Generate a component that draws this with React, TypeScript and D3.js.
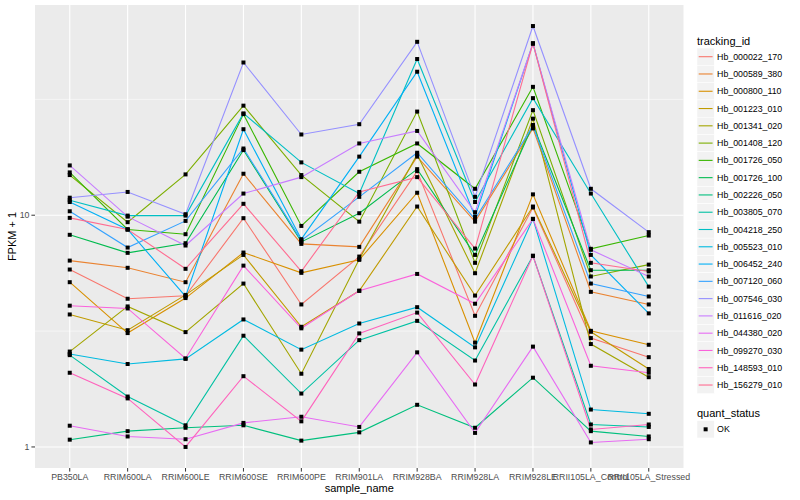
import React from 'react';
import * as d3 from 'd3';

const samples = [
  'PB350LA', 'RRIM600LA', 'RRIM600LE', 'RRIM600SE', 'RRIM600PE', 'RRIM901LA',
  'RRIM928BA', 'RRIM928LA', 'RRIM928LE', 'RRII105LA_Control', 'RRII105LA_Stressed',
];

const trackingIds = [
  'Hb_000022_170', 'Hb_000589_380', 'Hb_000800_110', 'Hb_001223_010', 'Hb_001341_020',
  'Hb_001408_120', 'Hb_001726_050', 'Hb_001726_100', 'Hb_002226_050', 'Hb_003805_070',
  'Hb_004218_250', 'Hb_005523_010', 'Hb_006452_240', 'Hb_007120_060', 'Hb_007546_030',
  'Hb_011616_020', 'Hb_044380_020', 'Hb_099270_030', 'Hb_148593_010', 'Hb_156279_010',
];

const hueColors = [
  '#F8766D', '#EA8331', '#D89000', '#C09B00', '#A3A500', '#7CAE00', '#39B600', '#00BB4E',
  '#00BF7D', '#00C1A3', '#00BFC4', '#00BAE0', '#00B0F6', '#35A2FF', '#9590FF', '#C77CFF',
  '#E76BF3', '#FA62DB', '#FF62BC', '#FF6C91',
];

// FPKM + 1 per sample (same order as samples)
const Hb_000022_170 = [5.83, 4.36, 4.49, 9.71, 4.12, 6.63, 15.5, 3.68, 10.8, 2.95, 2.44];
const Hb_000589_380 = [6.37, 5.93, 5.14, 15.1, 7.52, 7.30, 17.9, 9.38, 23.7, 4.67, 4.12];
const Hb_000800_110 = [5.14, 3.10, 4.39, 6.90, 5.64, 6.42, 12.5, 2.82, 12.3, 3.17, 2.76];
const Hb_001223_010 = [3.73, 3.19, 4.53, 6.74, 3.30, 4.72, 10.9, 4.50, 10.9, 3.14, 2.17];
const Hb_001341_020 = [2.58, 4.04, 3.13, 5.07, 2.07, 6.46, 18.3, 5.62, 26.1, 2.78, 2.00];
const Hb_001408_120 = [14.9, 9.33, 15.0, 29.7, 14.9, 9.38, 28.0, 6.23, 28.4, 5.44, 6.12];
const Hb_001726_050 = [15.3, 8.68, 8.28, 27.3, 8.99, 15.4, 20.4, 13.0, 35.8, 7.16, 8.17];
const Hb_001726_100 = [8.23, 6.88, 7.57, 19.1, 7.67, 10.2, 15.8, 6.74, 24.5, 5.79, 5.79];
const Hb_002226_050 = [1.075, 1.17, 1.21, 1.24, 1.065, 1.156, 1.52, 1.21, 1.99, 1.17, 1.11];
const Hb_003805_070 = [2.49, 1.65, 1.24, 3.02, 1.70, 2.89, 3.50, 2.36, 6.68, 1.25, 1.22];
const Hb_004218_250 = [11.6, 9.96, 9.96, 27.5, 16.9, 12.4, 47.2, 11.4, 32.0, 12.4, 4.92];
const Hb_005523_010 = [2.52, 2.28, 2.40, 3.55, 2.63, 3.41, 4.01, 2.69, 9.64, 1.45, 1.39];
const Hb_006452_240 = [11.4, 8.68, 4.46, 23.5, 7.88, 17.9, 41.6, 9.86, 55.1, 6.74, 3.77];
const Hb_007120_060 = [10.4, 7.25, 9.45, 19.4, 7.79, 12.0, 18.6, 9.62, 24.3, 5.07, 4.46];
const Hb_007546_030 = [11.9, 12.6, 10.1, 45.6, 22.3, 24.7, 56.0, 12.0, 65.5, 13.0, 8.45];
const Hb_011616_020 = [16.4, 9.86, 7.40, 12.4, 14.6, 20.4, 23.1, 10.3, 55.1, 7.09, 5.44];
const Hb_044380_020 = [1.235, 1.11, 1.08, 1.27, 1.35, 1.22, 2.56, 1.15, 2.71, 1.046, 1.08];
const Hb_099270_030 = [4.07, 3.96, 2.41, 6.06, 3.25, 4.72, 5.58, 4.15, 9.64, 2.24, 2.09];
const Hb_148593_010 = [2.09, 1.62, 1.00, 2.02, 1.29, 3.09, 3.80, 1.86, 6.68, 1.19, 1.25];
const Hb_156279_010 = [9.74, 8.68, 5.87, 11.2, 5.73, 12.6, 14.6, 7.18, 55.1, 6.23, 5.72];

const seriesValues = [
  Hb_000022_170, Hb_000589_380, Hb_000800_110, Hb_001223_010, Hb_001341_020,
  Hb_001408_120, Hb_001726_050, Hb_001726_100, Hb_002226_050, Hb_003805_070,
  Hb_004218_250, Hb_005523_010, Hb_006452_240, Hb_007120_060, Hb_007546_030,
  Hb_011616_020, Hb_044380_020, Hb_099270_030, Hb_148593_010, Hb_156279_010,
];

const yMajorTicks = [1, 10];
const yTickLabels = ['1', '10'];
const yMinorTicks = [Math.sqrt(10), Math.sqrt(1000)];

const W = 800;
const H = 500;
const panel = { left: 35, right: 683.5, top: 5, bottom: 468 };
const FONT = '"Liberation Sans", Arial, Helvetica, sans-serif';

export default function App() {
  const all = seriesValues.flat();
  const [mn, mx] = d3.extent(all) as [number, number];
  const lmin = Math.log10(mn);
  const lmax = Math.log10(mx);
  const pad = (lmax - lmin) * 0.05;
  const y = d3
    .scaleLog()
    .domain([Math.pow(10, lmin - pad), Math.pow(10, lmax + pad)])
    .range([panel.bottom, panel.top]);
  const x = d3.scalePoint<string>().domain(samples).range([panel.left, panel.right]).padding(0.6);

  const line = d3
    .line<number>()
    .x((_, i) => x(samples[i]) as number)
    .y((d) => y(d));

  const legX = 697;
  const keySize = 17.28;
  const legTop = 56.7 - keySize / 2;
  const ps = 4;

  return (
    <svg
      width={W}
      height={H}
      style={{ position: 'absolute', left: 0, top: 0, background: '#fff' }}
      fontFamily={FONT}
    >
      <rect x={panel.left} y={panel.top} width={panel.right - panel.left} height={panel.bottom - panel.top} fill="#EBEBEB" />
      {yMinorTicks.map((t, i) => (
        <line key={'mi' + i} x1={panel.left} x2={panel.right} y1={y(t)} y2={y(t)} stroke="#fff" strokeWidth={0.55} />
      ))}
      {yMajorTicks.map((t, i) => (
        <line key={'ma' + i} x1={panel.left} x2={panel.right} y1={y(t)} y2={y(t)} stroke="#fff" strokeWidth={1.1} />
      ))}
      {samples.map((s) => (
        <line key={'vx' + s} x1={x(s)} x2={x(s)} y1={panel.top} y2={panel.bottom} stroke="#fff" strokeWidth={1.1} />
      ))}

      {seriesValues.map((vals, i) => (
        <path key={'l' + i} d={line(vals) || ''} fill="none" stroke={hueColors[i]} strokeWidth={1.1} />
      ))}
      {seriesValues.map((vals, i) =>
        vals.map((v, j) => (
          <rect
            key={'p' + i + '_' + j}
            x={(x(samples[j]) as number) - ps / 2}
            y={y(v) - ps / 2}
            width={ps}
            height={ps}
            fill="#000"
          />
        ))
      )}

      {/* y axis */}
      {yMajorTicks.map((t, i) => (
        <g key={'yt' + i}>
          <line x1={panel.left - 3.6} x2={panel.left} y1={y(t)} y2={y(t)} stroke="#333" strokeWidth={1} />
          <text x={panel.left - 5.5} y={y(t)} dy="0.35em" textAnchor="end" fontSize={8.8} fill="#4D4D4D">
            {yTickLabels[i]}
          </text>
        </g>
      ))}
      {/* x axis */}
      {samples.map((s) => (
        <g key={'xt' + s}>
          <line x1={x(s)} x2={x(s)} y1={panel.bottom} y2={panel.bottom + 3.6} stroke="#333" strokeWidth={1} />
          <text x={x(s)} y={panel.bottom + 11.8} textAnchor="middle" fontSize={8.8} fill="#4D4D4D">
            {s}
          </text>
        </g>
      ))}
      <text x={(panel.left + panel.right) / 2} y={492} textAnchor="middle" fontSize={11} fill="#000">
        sample_name
      </text>
      <text
        transform={`translate(15.5, ${(panel.top + panel.bottom) / 2}) rotate(-90)`}
        textAnchor="middle"
        fontSize={11}
        fill="#000"
      >
        FPKM + 1
      </text>

      {/* legend: tracking_id */}
      <text x={legX} y={44.5} fontSize={11} fill="#000">
        tracking_id
      </text>
      {trackingIds.map((id, i) => {
        const ky = legTop + i * keySize;
        return (
          <g key={'lg' + id}>
            <rect x={legX} y={ky} width={keySize} height={keySize} fill="#F2F2F2" stroke="#fff" strokeWidth={0.5} />
            <line
              x1={legX + 1.7}
              x2={legX + keySize - 1.7}
              y1={ky + keySize / 2}
              y2={ky + keySize / 2}
              stroke={hueColors[i]}
              strokeWidth={1.1}
            />
            <text x={legX + keySize + 2.8} y={ky + keySize / 2} dy="0.35em" fontSize={8.8} fill="#000">
              {id}
            </text>
          </g>
        );
      })}

      {/* legend: quant_status */}
      <text x={legX} y={416.5} fontSize={11} fill="#000">
        quant_status
      </text>
      <rect x={legX} y={429.3 - keySize / 2} width={keySize} height={keySize} fill="#F2F2F2" stroke="#fff" strokeWidth={0.5} />
      <rect x={legX + keySize / 2 - ps / 2} y={429.3 - ps / 2} width={ps} height={ps} fill="#000" />
      <text x={legX + keySize + 2.8} y={429.3} dy="0.35em" fontSize={8.8} fill="#000">
        OK
      </text>
    </svg>
  );
}
